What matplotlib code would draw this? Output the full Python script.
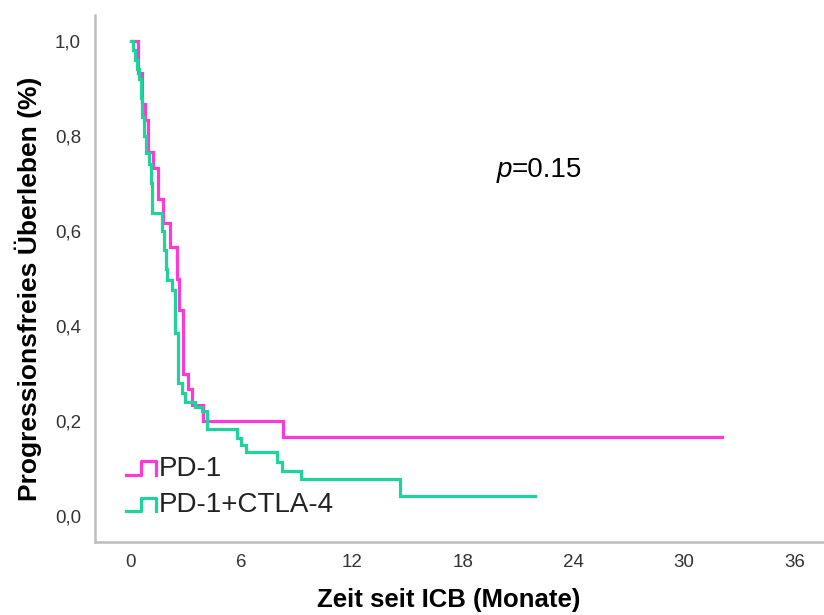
import matplotlib
matplotlib.use("Agg")
import matplotlib.pyplot as plt
from matplotlib.lines import Line2D
from matplotlib.legend_handler import HandlerBase

# ============================================================
# DATA
# ============================================================
# PD-1: event times (months) and survival after each step
pd1_time = [0.0, 0.38, 0.60, 0.76, 0.92, 1.19, 1.46, 1.74, 2.11, 2.49,
            2.60, 2.82, 3.09, 3.31, 3.90, 8.24, 32.05]
pd1_surv = [1.0, 0.933, 0.867, 0.833, 0.767, 0.733, 0.667, 0.617, 0.567, 0.500,
            0.433, 0.300, 0.267, 0.233, 0.200, 0.167, 0.167]

# PD-1+CTLA-4
combo_time = [0.0, 0.10, 0.20, 0.30, 0.45, 0.55, 0.62, 0.70, 0.80, 1.00,
              1.10, 1.15, 1.70, 1.80, 1.88, 1.95, 2.22, 2.39, 2.55, 2.77,
              2.93, 3.47, 3.85, 4.12, 5.75, 5.95, 6.25, 7.90, 8.20, 9.20,
              14.60, 21.90]
combo_surv = [1.0, 0.98, 0.96, 0.94, 0.92, 0.88, 0.84, 0.80, 0.765, 0.74,
              0.70, 0.638, 0.60, 0.56, 0.52, 0.497, 0.476, 0.385, 0.28, 0.259,
              0.24, 0.229, 0.222, 0.183, 0.165, 0.150, 0.135, 0.114, 0.095, 0.078,
              0.042, 0.042]

labels = ["PD-1", "PD-1+CTLA-4"]
colors = ["#fb3ad9", "#1fd49c"]

x_ticks = [0, 6, 12, 18, 24, 30, 36]
y_ticks = [0.0, 0.2, 0.4, 0.6, 0.8, 1.0]
p_text = "=0.15"

FONT = ["Liberation Sans", "DejaVu Sans"]


class PulseHandler(HandlerBase):
    """Legend key drawn as a little step pulse, like SPSS."""
    def create_artists(self, legend, orig_handle, xdescent, ydescent,
                       width, height, fontsize, trans):
        x0, y0 = -xdescent, -ydescent
        xs = [x0, x0 + 0.5 * width, x0 + 0.5 * width, x0 + width, x0 + width]
        ys = [y0 + 0.05 * height, y0 + 0.05 * height, y0 + 0.75 * height,
              y0 + 0.75 * height, y0 + 0.05 * height]
        ln = Line2D(xs, ys, color=orig_handle.get_color(),
                    lw=orig_handle.get_linewidth())
        ln.set_transform(trans)
        return [ln]


def render():
    plt.rcParams["font.family"] = FONT
    fig = plt.figure(figsize=(8.24, 6.15), dpi=100)
    ax = fig.add_axes([0.1153, 0.1187, 0.8847, 0.8569])

    handles = []
    for t, s, c, lab in [(pd1_time, pd1_surv, colors[0], labels[0]),
                         (combo_time, combo_surv, colors[1], labels[1])]:
        h, = ax.step(t, s, where="post", color=c, lw=2.3, label=lab,
                     solid_joinstyle="miter")
        handles.append(h)

    ax.set_xlim(-1.95, 37.58)
    ax.set_ylim(-0.0547, 1.0547)
    ax.set_xticks(x_ticks)
    ax.set_xticklabels([str(v) for v in x_ticks], fontsize=13.5,
                       color="#333333")
    ax.set_yticks(y_ticks)
    ax.set_yticklabels([f"{v:.1f}".replace(".", ",") for v in y_ticks],
                       fontsize=13.5, color="#333333")
    ax.tick_params(axis="x", length=0, pad=9)
    ax.tick_params(axis="y", length=0, pad=10)

    for side in ("top", "right"):
        ax.spines[side].set_visible(False)
    for side in ("left", "bottom"):
        ax.spines[side].set_color("#bdbdbd")
        ax.spines[side].set_linewidth(1.8)

    ax.set_xlabel("Zeit seit ICB (Monate)", fontsize=18.5, weight="bold")
    ax.xaxis.set_label_coords(0.485, -0.088)
    ax.set_ylabel("Progressionsfreies Überleben (%)", fontsize=19,
                  weight="bold")
    ax.yaxis.set_label_coords(-0.073, 0.48)

    ax.text(0.572, 0.706, "p", style="italic", fontsize=20,
            transform=ax.transAxes, ha="right", va="center")
    ax.text(0.572, 0.706, p_text, fontsize=20,
            transform=ax.transAxes, ha="left", va="center")

    leg = ax.legend(handles=handles, labels=labels, loc="lower left",
                    bbox_to_anchor=(0.042, 0.045), frameon=False,
                    fontsize=20, handlelength=1.1, handletextpad=0.1,
                    labelspacing=0.38, borderaxespad=0, borderpad=0,
                    handler_map={Line2D: PulseHandler()})
    for txt in leg.get_texts():
        txt.set_color("#222222")

    fig.savefig("out.png", dpi=100, facecolor="white")
    plt.close(fig)


if __name__ == "__main__":
    render()
